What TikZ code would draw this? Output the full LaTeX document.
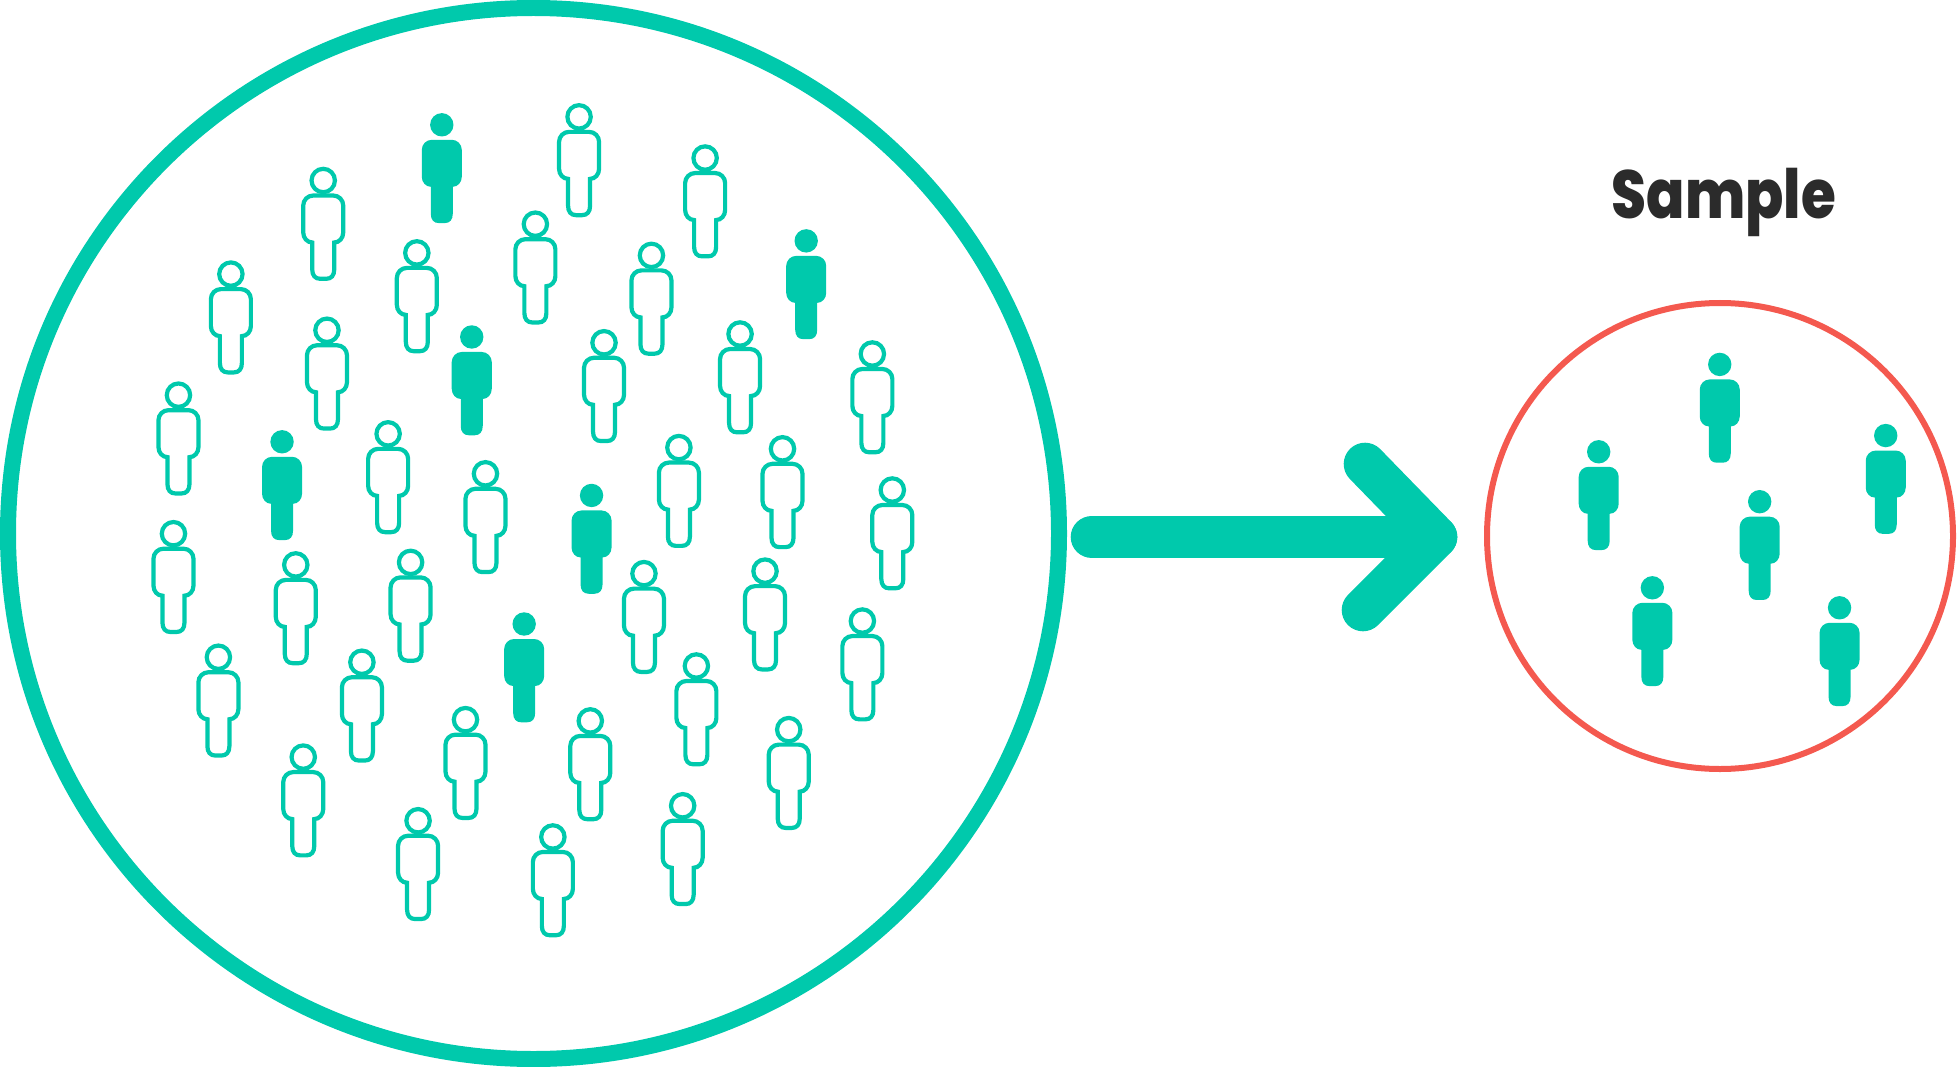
\documentclass[tikz,border=0pt]{standalone}
\usepackage{fontspec}
\newfontfamily\samplefont{Poppins}[BoldFont={Poppins ExtraBold}]
\definecolor{teal}{HTML}{00C9AC}
\definecolor{coral}{HTML}{F4594F}
\definecolor{ink}{HTML}{2B2B2B}
\tikzset{
  ring/.style={circle,draw,inner sep=0pt},
  arrowline/.style={draw=teal,line width=42.6pt,line cap=round,line join=round},
  outlined/.style={draw=teal,line width=4.2pt,fill=white},
  solid body/.style={fill=teal},
  person/.pic={
    \path[pic actions] (0,0) circle[radius=11.7];
    \path[pic actions] (-10,15) -- (10,15) .. controls (15.5,15) and (20,19.5) .. (20,25)
      -- (20,52) .. controls (20,57.5) and (16,62) .. (11,62) -- (11,89)
      .. controls (11,95) and (8,98.3) .. (3,98.3) -- (-3,98.3) .. controls (-8,98.3) and (-11,95) .. (-11,89)
      -- (-11,62) .. controls (-16,62) and (-20,57.5) .. (-20,52) -- (-20,25)
      .. controls (-20,19.5) and (-15.5,15) .. (-10,15) -- cycle;
  }
}
\begin{document}
\begin{tikzpicture}[x=1pt,y=-1pt]
\useasboundingbox (0,0) rectangle (1957,1067);
\node[ring,draw=teal,line width=16pt,minimum size=1051pt] (population) at (533.5,533.5) {};
\node[ring,draw=coral,line width=6pt,minimum size=466pt] (sample) at (1720,536) {};
\node[font=\samplefont\bfseries\fontsize{68}{68}\selectfont,text=ink,anchor=base,inner sep=0pt] (samplelabel) at (1724,219) {\scalebox{.83}[1]{Sample}};
\foreach \x/\y in {259/144,464/93,565/126,185/219,334/202,429/179,522/204,262/264,484/274,593/267,699/283,143/316,311/347,389/379,544/358,627/359,715/392,139/427,237/452,329/450,516/459,613/457,691/497,175/526,290/530,558/533,373/576,473/577,632/584,243/606,335/657,443/670,547/645}
  \pic[outlined] at ({\x*1.248},{\y*1.248+.8}) {person};
\foreach \x/\y in {354/100,646/193,378/270,226/354,474/397,420/500,1378/292,1281/362,1511/349,1410/402,1324/471,1474/487}
  \pic[solid body] at ({\x*1.248},{\y*1.248}) {person};
\coordinate (tail) at (1092,537);
\coordinate (tip) at (1436,537);
\coordinate (barbup) at (1365,464);
\coordinate (barbdown) at (1363,610);
\draw[arrowline] (tail) -- (tip);
\draw[arrowline] (barbup) -- (tip) -- (barbdown);
\end{tikzpicture}
\end{document}
